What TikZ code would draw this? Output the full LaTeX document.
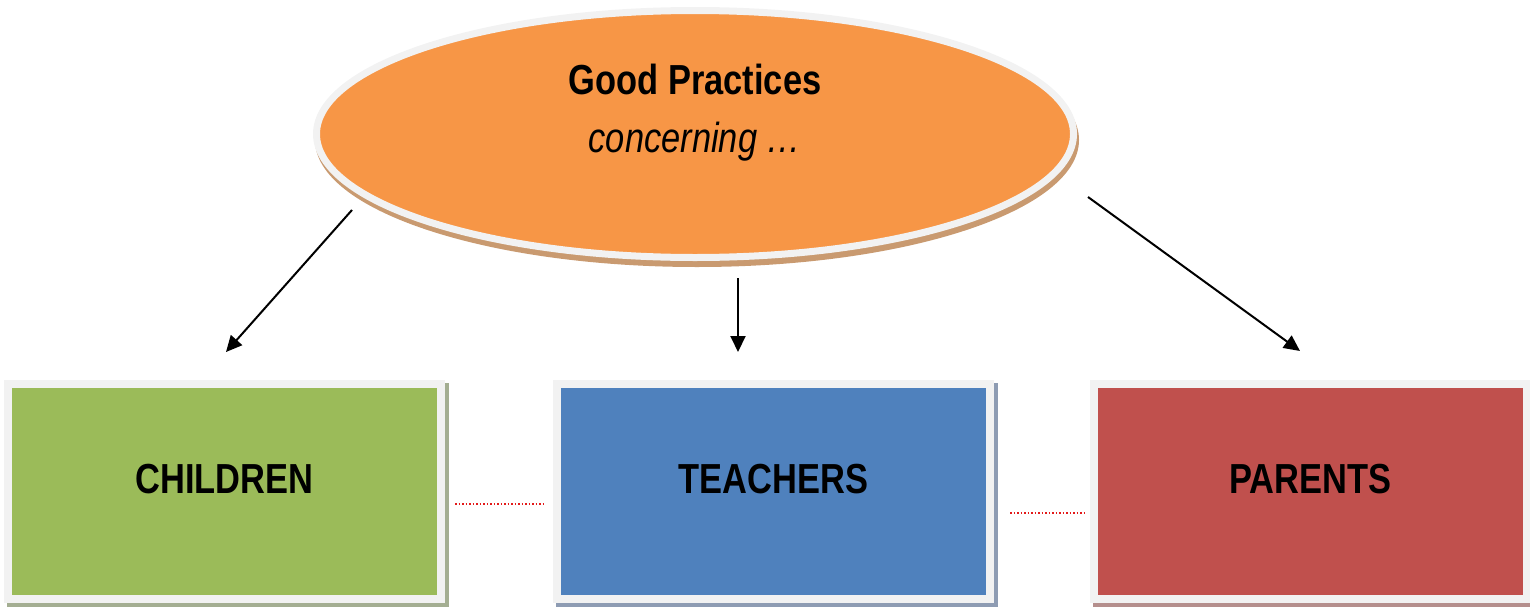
\documentclass[tikz,border=0pt]{standalone}
\usepackage{fontspec}
\setmainfont{Liberation Sans}
\newfontfamily\narrowfont[FakeStretch=0.82]{Liberation Sans}
\usetikzlibrary{shapes.geometric,arrows.meta,backgrounds}

\definecolor{framegrey}{HTML}{F2F2F2}
\definecolor{practiceorange}{HTML}{F79646}
\definecolor{childgreen}{HTML}{9BBB59}
\definecolor{teacherblue}{HTML}{4F81BD}
\definecolor{parentred}{HTML}{C0504D}
\definecolor{ovalshadow}{HTML}{C99A70}
\definecolor{childshadow}{HTML}{A4AE92}
\definecolor{teachershadow}{HTML}{8E9CB3}
\definecolor{parentshadow}{HTML}{B58F8D}
\definecolor{linkred}{HTML}{E31A1A}

\begin{document}
\begin{tikzpicture}[x=1pt,y=-1pt]
		\tikzset{
  group/.style={
         rectangle,
         draw=framegrey, line width=8pt,
         minimum width=433pt,
         minimum height=215pt,
         inner sep=0,
         text height=30pt, text depth=27pt,
         font=\narrowfont\fontsize{42}{50}\selectfont\bfseries,
         text centered,
         },
  concern/.style={-{Triangle[length=16pt,width=15pt]}, line width=2pt},
  link/.style={draw=linkred, line width=1.5pt, dash pattern=on 1.5pt off 2pt},
}

    \useasboundingbox (0,0) rectangle (1530,608);

    \node[ellipse,
      draw=framegrey, line width=7pt,
      fill=practiceorange,
      minimum width=757pt, minimum height=247pt,
      inner sep=0] (practices) at (695,134) {};

    \node[font=\narrowfont\fontsize{42}{58}\selectfont,
      align=center] (practicestext) at ([yshift=21pt]practices.center)
    {\textbf{Good Practices}\\ \textit{concerning …}};

    \node[group, fill=childgreen] (children) at (224.5,491.5) {CHILDREN};

    \node[group, fill=teacherblue,
      right of=children,
      node distance=549pt,
      anchor=center] (teachers) {TEACHERS};

    \node[group, fill=parentred,
      right of=teachers,
      node distance=536.5pt,
      anchor=center] (parents) {PARENTS};

    % shadows behind the shapes
    \begin{scope}[on background layer]
      \fill[ovalshadow] ([shift={(2pt,-6pt)}]practices.center)
        ellipse [x radius=382pt, y radius=127pt];
      \fill[childshadow] ([shift={(3pt,-4pt)}]children.south west)
        rectangle ([shift={(4pt,-3pt)}]children.north east);
      \fill[teachershadow] ([shift={(3pt,-4pt)}]teachers.south west)
        rectangle ([shift={(4pt,-3pt)}]teachers.north east);
      \fill[parentshadow] ([shift={(3pt,-4pt)}]parents.south west)
        rectangle ([shift={(4pt,-3pt)}]parents.north east);
    \end{scope}

    \coordinate (fromleft) at ([shift={(-343pt,-76pt)}]practices.center);
    \coordinate (frommid) at ([shift={(43pt,-144pt)}]practices.center);
    \coordinate (fromright) at ([shift={(393pt,-63pt)}]practices.center);
    \coordinate (tochildren) at ([shift={(1.5pt,28pt)}]children.north);
    \coordinate (toteachers) at ([shift={(-35.5pt,28pt)}]teachers.north);
    \coordinate (toparents) at ([shift={(-10pt,29pt)}]parents.north);

    \draw[concern] (fromleft) -- (tochildren);
    \draw[concern] (frommid) -- (toteachers);
    \draw[concern] (fromright) -- (toparents);

    \draw[link, shorten <=10pt, shorten >=8pt]
      ([yshift=-12.5pt]children.east) -- ([yshift=-12.5pt]teachers.west);
    \draw[link, shorten <=16pt, shorten >=3pt]
      ([yshift=-21.5pt]teachers.east) -- ([yshift=-21.5pt]parents.west);

	\end{tikzpicture}
\end{document}
